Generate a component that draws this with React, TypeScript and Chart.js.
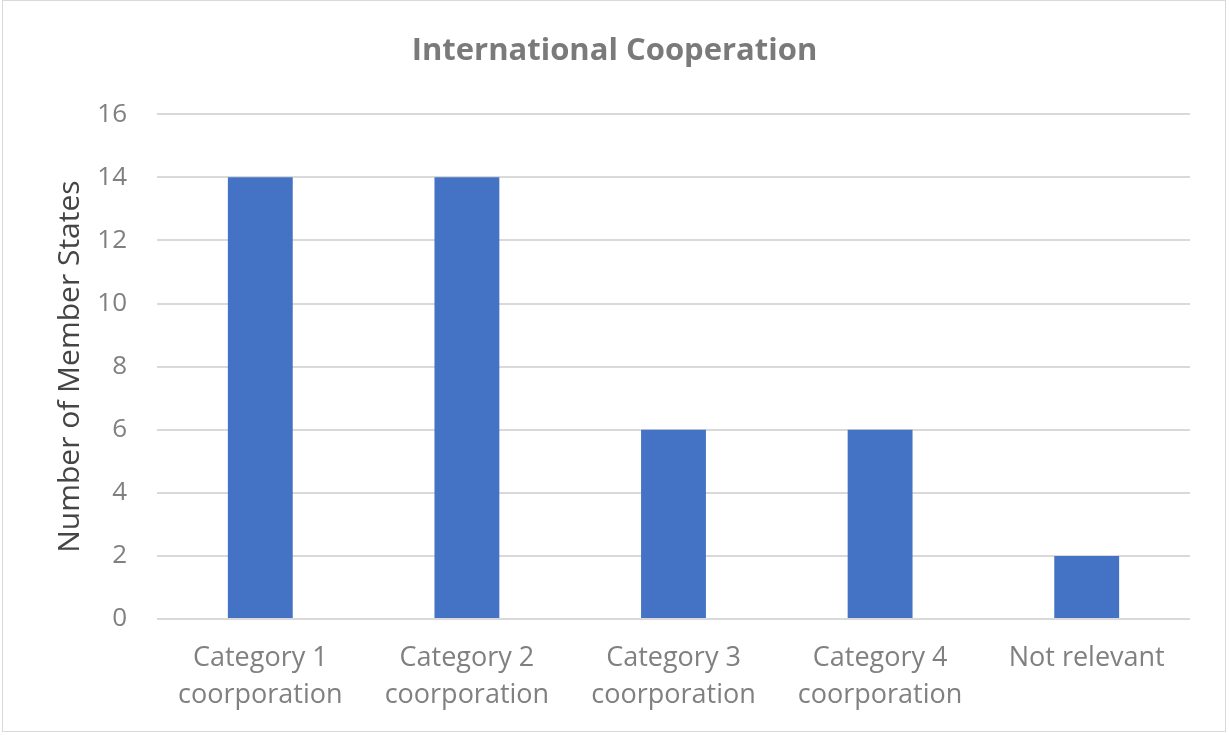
import React, { useEffect, useRef } from "react";
import { Chart, registerables } from "chart.js";

Chart.register(...registerables);

const categories: string[][] = [
  ["Category 1", "coorporation"],
  ["Category 2", "coorporation"],
  ["Category 3", "coorporation"],
  ["Category 4", "coorporation"],
  ["Not relevant"],
];
const memberStates: number[] = [14, 14, 6, 6, 2];
const yTicks = { min: 0, max: 16, step: 2 };
const chartTitle = "International Cooperation";
const yTitle = "Number of Member States";

const FONT = "'Open Sans', 'Noto Sans', sans-serif";

export default function App() {
  const ref = useRef<HTMLCanvasElement | null>(null);
  useEffect(() => {
    document.body.style.margin = "0";
    const ctx = ref.current!.getContext("2d")!;
    const chart = new Chart(ctx, {
      type: "bar",
      data: {
        labels: categories,
        datasets: [
          {
            data: memberStates,
            backgroundColor: "#4472C4",
            barPercentage: 0.314,
            categoryPercentage: 1,
          },
        ],
      },
      options: {
        animation: false,
        responsive: false,
        maintainAspectRatio: false,
        layout: { padding: { left: 39, right: 39, top: 0, bottom: 0 } },
        plugins: {
          legend: { display: false },
          tooltip: { enabled: false },
          title: {
            display: true,
            text: chartTitle,
            color: "#7a7a7a",
            font: { family: FONT, size: 31, weight: "bold", lineHeight: 1.2 },
            padding: { top: 33, bottom: 44 },
          },
        },
        scales: {
          x: {
            grid: { display: false },
            border: { display: false },
            ticks: {
              color: "#808080",
              font: { family: FONT, size: 27, lineHeight: 37 / 27 },
              padding: 13,
              maxRotation: 0,
              autoSkip: false,
            },
            afterFit: (s: any) => {
              s.height = 735 - 619;
            },
          },
          y: {
            min: yTicks.min,
            max: yTicks.max,
            grid: { color: "#d9d9d9", lineWidth: 2, drawTicks: false },
            border: { display: false },
            ticks: {
              stepSize: yTicks.step,
              color: "#808080",
              font: { family: FONT, size: 26 },
              padding: 30,
            },
            title: {
              display: true,
              text: yTitle,
              color: "#454545",
              font: { family: FONT, size: 30, lineHeight: 1.2 },
              padding: { top: 13, bottom: 0 },
            },
            afterFit: (s: any) => {
              s.width = 157 - 39;
            },
          },
        },
      },
    });
    return () => chart.destroy();
  }, []);
  return (
    <div style={{ position: "absolute", left: 0, top: 0, width: 1229, height: 735 }}>
      <canvas ref={ref} width={1229} height={735} style={{ position: "absolute", left: 0, top: 0 }} />
      <div
        style={{
          position: "absolute",
          left: 2,
          top: 0,
          width: 1224,
          height: 732,
          border: "1.5px solid #d9d9d9",
          boxSizing: "border-box",
          pointerEvents: "none",
        }}
      />
    </div>
  );
}
